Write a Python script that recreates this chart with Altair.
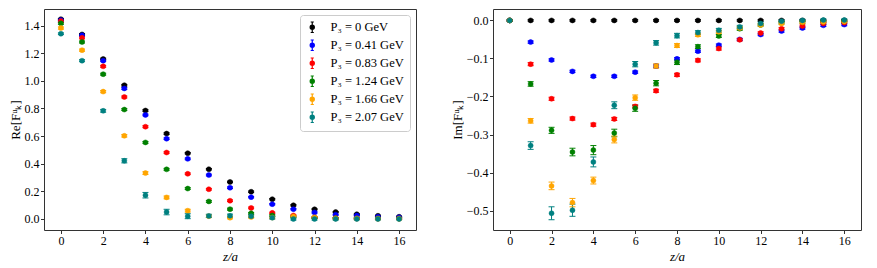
import altair as alt
import pandas as pd

z = list(range(17))

series_labels = ["P₃ = 0 GeV", "P₃ = 0.41 GeV", "P₃ = 0.83 GeV",
                 "P₃ = 1.24 GeV", "P₃ = 1.66 GeV", "P₃ = 2.07 GeV"]
series_colors = ["#000000", "#0000ff", "#ff0000", "#008000", "#ffa500", "#008080"]

# Real part
re_black = [1.446, 1.336, 1.158, 0.968, 0.785, 0.618, 0.476, 0.360, 0.268, 0.197, 0.143, 0.099, 0.070, 0.050, 0.034, 0.023, 0.016]
re_blue = [1.440, 1.330, 1.146, 0.945, 0.753, 0.581, 0.435, 0.318, 0.226, 0.158, 0.107, 0.071, 0.047, 0.031, 0.025, 0.016, 0.012]
re_red = [1.433, 1.311, 1.105, 0.883, 0.668, 0.481, 0.327, 0.215, 0.132, 0.080, 0.044, 0.025, 0.011, 0.006, 0.004, 0.003, 0.003]
re_green = [1.416, 1.281, 1.048, 0.792, 0.554, 0.359, 0.220, 0.127, 0.071, 0.041, 0.025, 0.014, 0.008, 0.005, 0.004, 0.003, 0.002]
re_orange = [1.382, 1.222, 0.922, 0.602, 0.332, 0.156, 0.060, 0.020, 0.009, 0.014, 0.010, 0.018, 0.011, 0.004, 0.003, 0.002, 0.002]
re_teal = [1.341, 1.146, 0.783, 0.421, 0.172, 0.050, 0.020, 0.022, 0.023, 0.020, 0.009, 0.000, 0.000, 0.000, 0.000, 0.000, 0.000]

re_err_black = [0.006, 0.006, 0.006, 0.006, 0.006, 0.006, 0.005, 0.005, 0.005, 0.005, 0.005, 0.005, 0.004, 0.004, 0.004, 0.004, 0.004]
re_err_blue = [0.007, 0.007, 0.007, 0.007, 0.006, 0.006, 0.006, 0.006, 0.006, 0.005, 0.005, 0.005, 0.005, 0.004, 0.004, 0.004, 0.004]
re_err_red = [0.007, 0.007, 0.007, 0.007, 0.007, 0.006, 0.006, 0.006, 0.006, 0.006, 0.005, 0.005, 0.005, 0.005, 0.004, 0.004, 0.004]
re_err_green = [0.007, 0.007, 0.007, 0.007, 0.007, 0.007, 0.007, 0.007, 0.007, 0.006, 0.006, 0.006, 0.005, 0.005, 0.005, 0.005, 0.005]
re_err_orange = [0.008, 0.008, 0.008, 0.009, 0.010, 0.010, 0.010, 0.009, 0.008, 0.008, 0.007, 0.007, 0.007, 0.006, 0.006, 0.006, 0.006]
re_err_teal = [0.006, 0.007, 0.010, 0.015, 0.020, 0.020, 0.018, 0.012, 0.012, 0.010, 0.010, 0.008, 0.008, 0.008, 0.006, 0.006, 0.006]

# Imaginary part
im_black = [0.0, 0.0, 0.0, 0.0, 0.0, 0.0, 0.0, 0.0, 0.0, 0.0, 0.0, 0.0, 0.0, 0.0, 0.0, 0.0, 0.0]
im_blue = [0.0, -0.057, -0.104, -0.134, -0.147, -0.147, -0.136, -0.120, -0.101, -0.081, -0.065, -0.050, -0.037, -0.028, -0.020, -0.013, -0.011]
im_red = [0.0, -0.115, -0.206, -0.258, -0.274, -0.259, -0.226, -0.185, -0.143, -0.105, -0.074, -0.051, -0.033, -0.022, -0.015, -0.008, -0.006]
im_green = [0.0, -0.167, -0.289, -0.346, -0.341, -0.296, -0.231, -0.165, -0.110, -0.069, -0.041, -0.022, -0.012, -0.006, -0.004, -0.003, -0.002]
im_orange = [0.0, -0.264, -0.435, -0.479, -0.421, -0.313, -0.203, -0.120, -0.066, -0.038, -0.030, -0.020, -0.012, -0.008, -0.005, -0.004, -0.003]
im_teal = [0.0, -0.329, -0.507, -0.499, -0.372, -0.223, -0.115, -0.059, -0.040, -0.032, -0.026, -0.017, -0.008, -0.002, 0.000, 0.001, 0.001]

im_err_black = [0.002, 0.002, 0.002, 0.002, 0.002, 0.002, 0.002, 0.002, 0.002, 0.002, 0.002, 0.002, 0.002, 0.002, 0.002, 0.002, 0.002]
im_err_blue = [0.002, 0.003, 0.003, 0.003, 0.003, 0.003, 0.003, 0.003, 0.003, 0.003, 0.003, 0.003, 0.003, 0.003, 0.003, 0.003, 0.003]
im_err_red = [0.002, 0.004, 0.004, 0.004, 0.004, 0.004, 0.004, 0.004, 0.004, 0.004, 0.004, 0.003, 0.003, 0.003, 0.003, 0.003, 0.003]
im_err_green = [0.002, 0.006, 0.008, 0.010, 0.012, 0.010, 0.008, 0.007, 0.006, 0.005, 0.004, 0.004, 0.003, 0.003, 0.003, 0.003, 0.003]
im_err_orange = [0.002, 0.006, 0.010, 0.011, 0.009, 0.009, 0.007, 0.006, 0.005, 0.004, 0.004, 0.004, 0.003, 0.003, 0.003, 0.003, 0.003]
im_err_teal = [0.002, 0.010, 0.017, 0.016, 0.013, 0.009, 0.007, 0.006, 0.006, 0.005, 0.005, 0.004, 0.004, 0.003, 0.003, 0.003, 0.003]

re_vals = [re_black, re_blue, re_red, re_green, re_orange, re_teal]
re_errs = [re_err_black, re_err_blue, re_err_red, re_err_green, re_err_orange, re_err_teal]
im_vals = [im_black, im_blue, im_red, im_green, im_orange, im_teal]
im_errs = [im_err_black, im_err_blue, im_err_red, im_err_green, im_err_orange, im_err_teal]


def build(vals, errs):
    rows = []
    for k, (lab, vs, es) in enumerate(zip(series_labels, vals, errs)):
        for zi, v, e in zip(z, vs, es):
            rows.append({"z": zi, "val": v, "lo": v - e, "hi": v + e,
                         "series": lab, "idx": k * 100 + zi})
    return pd.DataFrame(rows)


SERIF = "Liberation Serif"
AX = "#333333"
color_scale = alt.Scale(domain=series_labels, range=series_colors)
legend_path = ("M-0.3,-1L0.3,-1M0,-1L0,1M-0.3,1L0.3,1"
               "M0.4,0A0.4,0.4 0 1,1 -0.4,0A0.4,0.4 0 1,1 0.4,0Z")


def panel(df, ytitle, ydomain, yticks, width, height, legend):
    x = alt.X("z:Q", scale=alt.Scale(domain=[-0.8, 16.8], nice=False, zero=False),
              axis=alt.Axis(values=list(range(0, 17, 2)), title="z/a",
                            titleFontStyle="italic", format="d", titlePadding=4))
    yax = alt.Axis(values=yticks, format=".1f", title=ytitle, titlePadding=2)
    ysc = alt.Scale(domain=ydomain, nice=False, zero=False)
    base = alt.Chart(df)
    cnone = alt.Color("series:N", scale=color_scale, legend=None)
    rules = base.mark_rule(strokeWidth=1).encode(
        x=x, y=alt.Y("lo:Q", scale=ysc, axis=yax), y2="hi:Q", color=cnone,
        order=alt.Order("idx:Q"))
    cap_lo = base.mark_tick(orient="horizontal", size=6, thickness=1, opacity=1).encode(
        x=x, y=alt.Y("lo:Q", scale=ysc, axis=yax), color=cnone)
    cap_hi = base.mark_tick(orient="horizontal", size=6, thickness=1, opacity=1).encode(
        x=x, y=alt.Y("hi:Q", scale=ysc, axis=yax), color=cnone)
    if legend:
        leg = alt.Legend(title=None, orient="top-right", offset=6,
                         symbolType=legend_path, symbolSize=110,
                         symbolStrokeWidth=1.2, labelFont=SERIF, labelFontSize=12.5,
                         labelColor="black", rowPadding=2, padding=6,
                         strokeColor="#cccccc", fillColor="white",
                         cornerRadius=3, labelOffset=12)
    else:
        leg = None
    pts = base.mark_point(filled=True, size=25, opacity=1, strokeWidth=0.5).encode(
        x=x, y=alt.Y("val:Q", scale=ysc, axis=yax),
        fill=alt.Fill("series:N", scale=color_scale, legend=leg),
        stroke=alt.Stroke("series:N", scale=color_scale, legend=leg),
        order=alt.Order("idx:Q"))
    return alt.layer(rules, cap_lo, cap_hi, pts).properties(width=width, height=height)


re_df = build(re_vals, re_errs)
im_df = build(im_vals, im_errs)

left = panel(re_df, "Re[Fᵘₖ]", [-0.08, 1.52], [0.0, 0.2, 0.4, 0.6, 0.8, 1.0, 1.2, 1.4],
             372, 221, True)
right = panel(im_df, "Im[Fᵘₖ]", [-0.551, 0.03], [0.0, -0.1, -0.2, -0.3, -0.4, -0.5],
              368, 221, False)

chart = alt.hconcat(left, right, spacing=33).resolve_legend(
    fill="independent", stroke="independent"
).properties(padding=0).configure_view(
    stroke=AX, strokeWidth=1
).configure_axis(
    domain=False, grid=False, tickColor=AX, tickSize=3.5, tickWidth=1,
    labelFont=SERIF, labelFontSize=12, labelColor="black", labelPadding=1.5,
    titleFont=SERIF, titleFontSize=13, titleFontWeight="normal", titleColor="black"
)

chart.save("out.html", embed_options={"renderer": "svg", "actions": False})
